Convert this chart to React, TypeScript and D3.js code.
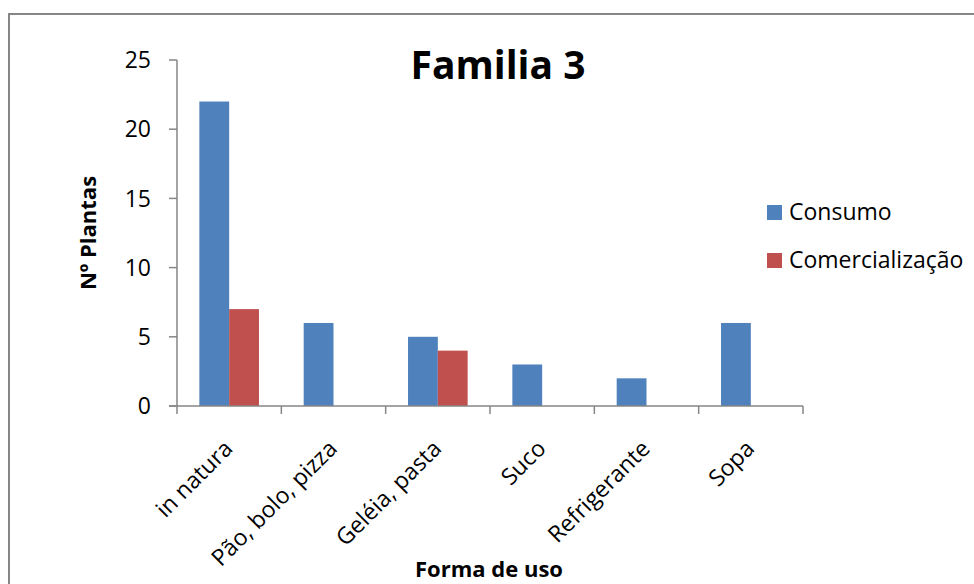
import React from 'react';
import * as d3 from 'd3';

const categories = ['in natura', 'Pão, bolo, pizza', 'Geléia, pasta', 'Suco', 'Refrigerante', 'Sopa'];
const consumo = [22, 6, 5, 3, 2, 6];
const comercializacao = [7, 0, 4, 0, 0, 0];
const seriesNames = ['Consumo', 'Comercialização'];
const yTicks = [0, 5, 10, 15, 20, 25];

const colors = ['#4F81BD', '#C0504D'];
const axisColor = '#868686';
const font = '"Open Sans", "Liberation Sans", sans-serif';

export default function App() {
  const width = 974;
  const height = 584;
  const plot = { left: 177, right: 803, top: 60, bottom: 406 };

  const x0 = d3
    .scaleBand()
    .domain(categories)
    .range([plot.left, plot.right])
    .paddingInner(1.5 / 3.5)
    .paddingOuter(0.75 / 3.5);

  const x1 = d3
    .scaleBand()
    .domain(seriesNames)
    .range([0, x0.bandwidth()]);

  const y = d3.scaleLinear().domain([0, 25]).range([plot.bottom, plot.top]);

  const series = [consumo, comercializacao];
  const step = x0.step();
  const boundaries = d3.range(categories.length + 1).map((i) => plot.left + i * step);

  return (
    <svg
      width={width}
      height={height}
      style={{ position: 'absolute', left: 0, top: 0, background: '#fff' }}
      fontFamily={font}
    >
      {/* chart border (only top and left visible) */}
      <path d={`M9,${height} V14 H${width}`} fill="none" stroke={axisColor} strokeWidth={2} />

      <text x={498} y={79} textAnchor="middle" fontSize={39} fontWeight="bold" fill="#000">
        Familia 3
      </text>

      {/* bars */}
      {categories.map((c, i) => (
        <g key={c} transform={`translate(${x0(c)},0)`}>
          {series.map((s, j) =>
            s[i] > 0 ? (
              <rect
                key={j}
                x={x1(seriesNames[j])}
                y={y(s[i])}
                width={x1.bandwidth()}
                height={y(0) - y(s[i])}
                fill={colors[j]}
              />
            ) : null
          )}
        </g>
      ))}

      {/* y axis */}
      <line x1={plot.left} x2={plot.left} y1={plot.top} y2={plot.bottom} stroke={axisColor} strokeWidth={1.5} />
      {yTicks.map((t) => (
        <g key={t}>
          <line x1={plot.left - 8} x2={plot.left} y1={y(t)} y2={y(t)} stroke={axisColor} strokeWidth={1.5} />
          <text x={151} y={y(t)} dy="0.36em" textAnchor="end" fontSize={23} fill="#000">
            {t}
          </text>
        </g>
      ))}

      {/* x axis */}
      <line x1={plot.left - 8} x2={plot.right} y1={plot.bottom} y2={plot.bottom} stroke={axisColor} strokeWidth={1.5} />
      {boundaries.map((b, i) => (
        <line key={i} x1={b} x2={b} y1={plot.bottom} y2={plot.bottom + 8} stroke={axisColor} strokeWidth={1.5} />
      ))}
      {categories.map((c) => {
        const cx = (x0(c) as number) + x0.bandwidth() / 2 + 5;
        return (
          <text
            key={c}
            transform={`translate(${cx},450) rotate(-45)`}
            textAnchor="end"
            fontSize={23}
            fill="#000"
          >
            {c}
          </text>
        );
      })}

      <text x={489} y={577} textAnchor="middle" fontSize={22} fontWeight="bold" fill="#000">
        Forma de uso
      </text>
      <text
        transform={`translate(96,${(plot.top + plot.bottom) / 2}) rotate(-90)`}
        textAnchor="middle"
        fontSize={22}
        fontWeight="bold"
        fill="#000"
      >
        Nº Plantas
      </text>

      {/* legend */}
      {seriesNames.map((n, i) => (
        <g key={n} transform={`translate(767,${205 + i * 48})`}>
          <rect width={15} height={15} fill={colors[i]} />
          <text x={22} y={15} fontSize={23} fill="#000">
            {n}
          </text>
        </g>
      ))}
    </svg>
  );
}
